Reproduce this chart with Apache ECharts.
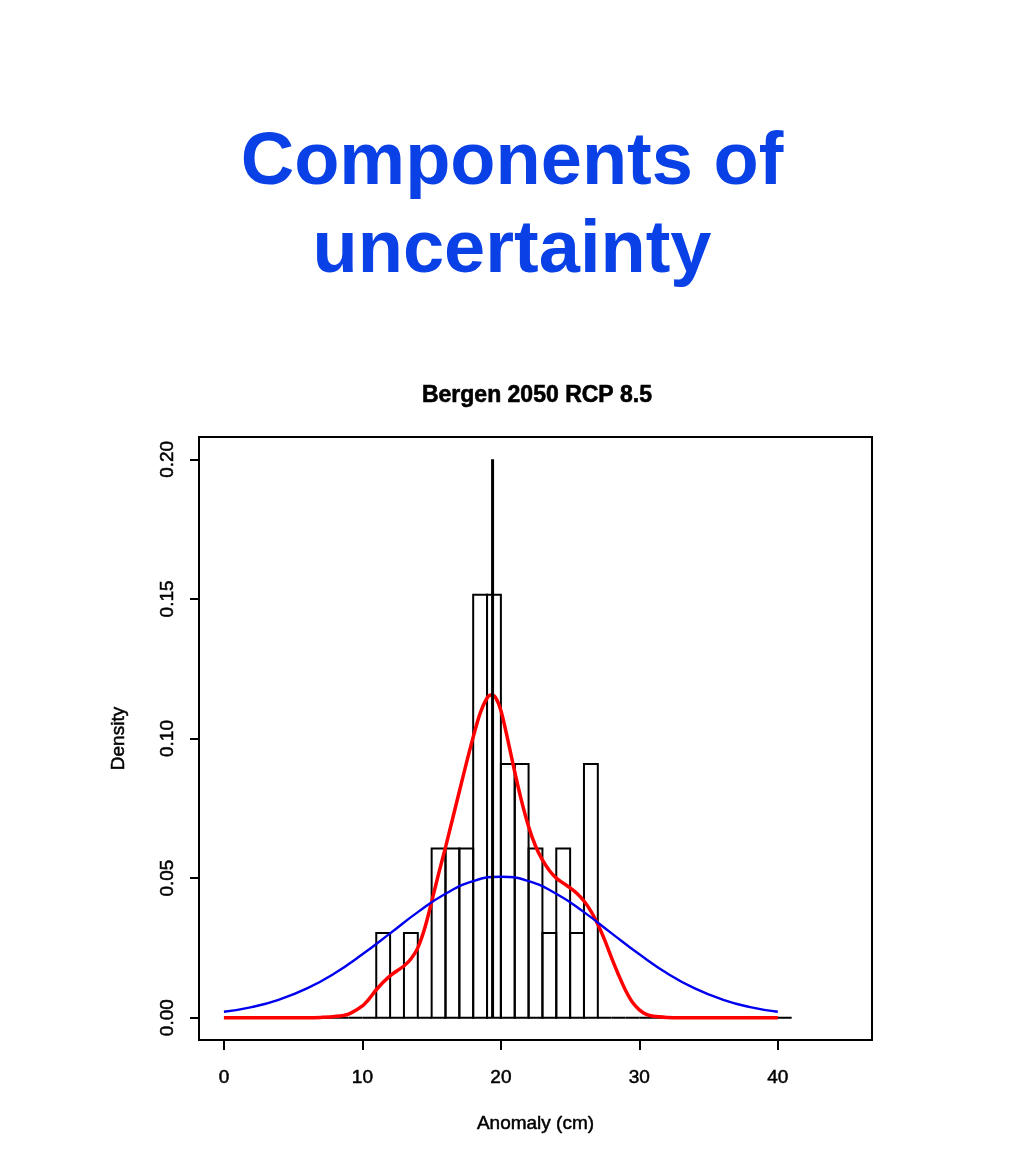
<!DOCTYPE html>
<html>
<head>
<meta charset="utf-8">
<script src="https://cdn.jsdelivr.net/npm/echarts@6/dist/echarts.min.js"></script>
<style>
html,body{margin:0;padding:0;background:#fff;}
#chart{width:1024px;height:1160px;}
</style>
</head>
<body>
<div id="chart"></div>
<script>
// ---- data ----
const pageTitle = 'Components of\nuncertainty';
const chartTitle = 'Bergen 2050 RCP 8.5';
const xName = 'Anomaly (cm)';
const yName = 'Density';
const xTicks = [0, 10, 20, 30, 40];
const yTicks = [0, 0.05, 0.10, 0.15, 0.20];

// histogram bins (left edge, width 1) and densities
const binLeft = [0,1,2,3,4,5,6,7,8,9,10,11,12,13,14,15,16,17,18,19,20,21,22,23,24,25,26,27,28,29,30,31,32,33,34,35,36,37,38,39,40];
const binWidth = 1;
const binDensity = [0,0,0,0,0,0,0,0,0,0,0,
  0.0303,0,0.0303,0,0.0606,0.0606,0.0606,0.1515,0.1515,0.0909,0.0909,0.0606,0.0303,0.0606,0.0303,0.0909,
  0,0,0,0,0,0,0,0,0,0,0,0,0,0];

// kernel density (red)
const kdeX = [0,2,4,6,7,8,9,10,10.5,11,11.5,12,12.5,13,13.5,14,14.5,15,15.5,16,16.5,17,17.5,18,18.5,19,19.3,19.6,20,20.5,21,21.5,22,22.5,23,23.5,24,24.5,25,25.5,26,26.5,27,27.5,28,28.5,29,29.5,30,30.5,31,32,33,35,37,40];
const kdeY = [0,0,0,0,0.0001,0.0004,0.0013,0.0042,0.0068,0.0100,0.0127,0.0150,0.0168,0.0185,0.0210,0.0250,0.0320,0.0415,0.0515,0.0610,0.0710,0.0810,0.0910,0.1005,0.1090,0.1145,0.1156,0.1148,0.1100,0.0995,0.0880,0.0775,0.0685,0.0615,0.0565,0.0527,0.0500,0.0482,0.0465,0.0445,0.0418,0.0382,0.0335,0.0278,0.0213,0.0153,0.0098,0.0055,0.0028,0.0012,0.0005,0.0001,0,0,0,0];

// normal fit (blue)
const normX = [0,2,4,6,8,10,12,14,16,18,20,22,24,26,28,30,32,34,36,38,40];
const normY = [0.0021,0.0038,0.0065,0.0105,0.0159,0.0227,0.0302,0.0378,0.0444,0.0489,0.0505,0.0489,0.0444,0.0378,0.0302,0.0227,0.0159,0.0105,0.0065,0.0038,0.0021];

// vertical marker
const markX = [19.4, 19.4];
const markY = [0, 0.2];

// ---- chart ----
const zip = (a, b) => a.map((v, i) => [v, b[i]]);
const histData = binLeft.map((x, i) => [x, x + binWidth, binDensity[i]]);
const FONT = '"Liberation Sans", Arial, Helvetica, sans-serif';
const axisText = {fontFamily: FONT, fontSize: 19, color: '#000', textBorderColor: '#000', textBorderWidth: 0.5};

const chart = echarts.init(document.getElementById('chart'), null, {renderer: 'canvas'});
chart.setOption({
  backgroundColor: '#fff',
  animation: false,
  title: [
    {
      text: pageTitle, left: 'center', top: 115,
      textStyle: {fontFamily: FONT, fontWeight: 'bold', fontSize: 74, lineHeight: 88, color: '#0a41e6'}
    },
    {
      text: chartTitle, left: 532, textAlign: 'center', top: 379,
      textStyle: {fontFamily: FONT, fontWeight: 'bold', fontSize: 23, color: '#000', textBorderColor: '#000', textBorderWidth: 0.6}
    }
  ],
  grid: {left: 199, top: 437, width: 673, height: 603, show: true, borderColor: '#000', borderWidth: 2, backgroundColor: 'transparent'},
  xAxis: {
    type: 'value', min: -1.8, max: 46.8,
    name: xName, nameLocation: 'middle', nameGap: 74,
    nameTextStyle: axisText,
    axisLine: {show: false, onZero: false},
    splitLine: {show: false},
    axisTick: {show: true, customValues: xTicks, length: 10, lineStyle: {color: '#000', width: 2}},
    axisLabel: Object.assign({customValues: xTicks, margin: 28}, axisText)
  },
  yAxis: {
    type: 'value', min: -0.008, max: 0.208,
    name: yName, nameLocation: 'middle', nameGap: 71, nameRotate: 90,
    nameTextStyle: axisText,
    axisLine: {show: false, onZero: false},
    splitLine: {show: false},
    axisTick: {show: true, customValues: yTicks, length: 9, lineStyle: {color: '#000', width: 2}},
    axisLabel: Object.assign({customValues: yTicks, rotate: 90, margin: 22,
      formatter: v => v.toFixed(2)}, axisText)
  },
  series: [
    {
      type: 'custom',
      data: histData,
      z: 2,
      renderItem: function (params, api) {
        const p0 = api.coord([api.value(0), 0]);
        const p1 = api.coord([api.value(1), api.value(2)]);
        return {
          type: 'rect',
          shape: {x: p0[0], y: p1[1], width: p1[0] - p0[0], height: p0[1] - p1[1]},
          style: {fill: 'none', stroke: '#000', lineWidth: 2}
        };
      },
      encode: {x: [0, 1], y: 2}
    },
    {
      type: 'line', data: zip(kdeX, kdeY), showSymbol: false, smooth: 0.3, z: 3,
      lineStyle: {color: '#ff0000', width: 3.5}
    },
    {
      type: 'line', data: zip(normX, normY), showSymbol: false, smooth: true, z: 4,
      lineStyle: {color: '#0000ee', width: 2.4}
    },
    {
      type: 'line', data: zip(markX, markY), showSymbol: false, z: 5,
      lineStyle: {color: '#000', width: 3}
    }
  ]
});
</script>
</body>
</html>
